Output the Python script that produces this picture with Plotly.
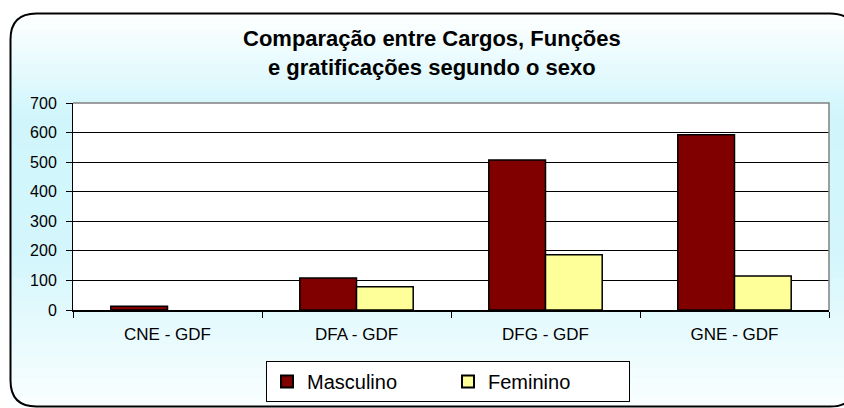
import plotly.graph_objects as go

categories = ["CNE - GDF", "DFA - GDF", "DFG - GDF", "GNE - GDF"]
masculino = [13, 108, 507, 593]
feminino = [None, 79, 187, 115]
title_lines = ["Comparação entre Cargos, Funções", "e gratificações segundo o sexo"]
y_ticks = [0, 100, 200, 300, 400, 500, 600, 700]

W, H = 844, 408
PL, PR, PT, PB = 73, 829, 103, 310  # plot area in pixels


def X(px):
    return (px - PL) / (PR - PL)


def Y(py):
    return (PB - py) / (PB - PT)


def lerp(a, b, t):
    return tuple(int(round(a[i] + (b[i] - a[i]) * t)) for i in range(3))


stops = [(13, (255, 255, 255)), (115, (208, 246, 252)), (250, (210, 246, 252)), (407, (250, 254, 255))]


def grad(py):
    for (y0, c0), (y1, c1) in zip(stops, stops[1:]):
        if y0 <= py <= y1:
            return lerp(c0, c1, (py - y0) / (y1 - y0))
    return stops[-1][1]


shapes = []
n = 70
top, bot = 13, 407
for i in range(n):
    y0 = top + (bot - top) * i / n
    y1 = top + (bot - top) * (i + 1) / n
    c = grad((y0 + y1) / 2)
    shapes.append(dict(type="rect", xref="paper", yref="paper", layer="below",
                       x0=X(10), x1=X(846), y0=Y(y1 + 0.5), y1=Y(y0),
                       fillcolor="rgb(%d,%d,%d)" % c, line=dict(width=0)))

# white plot area
shapes.append(dict(type="rect", xref="paper", yref="paper", layer="below",
                   x0=0, x1=1, y0=0, y1=1, fillcolor="white", line=dict(width=0)))
# gray top/right plot border
shapes.append(dict(type="path", xref="paper", yref="paper", layer="above",
                   path="M %f,%f L %f,%f L %f,%f" % (0, 1, 1, 1, 1, 0),
                   line=dict(color="#808080", width=1.5)))

# rounded chart border
r = 26
L, T, R, B = 10.5, 13.5, 856, 406.5
p = ("M {a},{b} L {c},{b} Q {R},{b} {R},{d} L {R},{e} Q {R},{B} {c},{B} "
     "L {a},{B} Q {L},{B} {L},{e} L {L},{d} Q {L},{b} {a},{b} Z")
pp = p.format(a=X(L + r), b=Y(T), c=X(R - r), R=X(R), d=Y(T + r), e=Y(B - r),
              B=Y(B), L=X(L))
shapes.append(dict(type="path", xref="paper", yref="paper", layer="above",
                   path=pp, line=dict(color="black", width=2)))

fig = go.Figure()
fig.add_trace(go.Bar(name="Masculino", x=categories, y=masculino,
                     marker=dict(color="#800000", line=dict(color="black", width=1.5))))
fig.add_trace(go.Bar(name="Feminino", x=categories, y=feminino,
                     marker=dict(color="#FFFF99", line=dict(color="black", width=1.5))))

font_family = "Liberation Sans, Arial, sans-serif"
annotations = [
    dict(text="<b>%s</b>" % title_lines[0], xref="paper", yref="paper",
         x=X(431.5), y=Y(38.5), xanchor="center", yanchor="middle", showarrow=False,
         font=dict(family=font_family, size=22, color="black")),
    dict(text="<b>%s</b>" % title_lines[1], xref="paper", yref="paper",
         x=X(431.5), y=Y(67.5), xanchor="center", yanchor="middle", showarrow=False,
         font=dict(family=font_family, size=22, color="black")),
]

fig.update_layout(
    width=W, height=H, autosize=False,
    margin=dict(l=PL, r=W - PR, t=PT, b=H - PB, pad=0),
    paper_bgcolor="white", plot_bgcolor="rgba(0,0,0,0)",
    barmode="group", bargap=0.4, bargroupgap=0,
    font=dict(family=font_family, size=16, color="black"),
    shapes=shapes, annotations=annotations,
    showlegend=True,
    legend=dict(orientation="h", xref="container", yref="container",
                x=448 / W, xanchor="center", y=1 - 361 / H, yanchor="top",
                bgcolor="white", bordercolor="black", borderwidth=1,
                font=dict(family=font_family, size=20, color="black"),
                entrywidth=136, entrywidthmode="pixels", itemsizing="constant"),
)
fig.update_yaxes(range=[0, 700], tickvals=y_ticks, showgrid=True, gridcolor="black",
                 gridwidth=1, zeroline=False, showline=True, linecolor="black", linewidth=1,
                 ticks="outside", ticklen=6, tickcolor="black", ticklabelstandoff=6,
                 tickfont=dict(size=16))
fig.update_xaxes(showgrid=False, showline=True, linecolor="black", linewidth=1.5,
                 ticks="outside", tickson="boundaries", ticklen=6, tickcolor="black",
                 ticklabelstandoff=8, tickfont=dict(size=17))

fig.write_html("out.html", config={"displayModeBar": False, "responsive": False},
               post_script="document.body.style.margin='0';")
